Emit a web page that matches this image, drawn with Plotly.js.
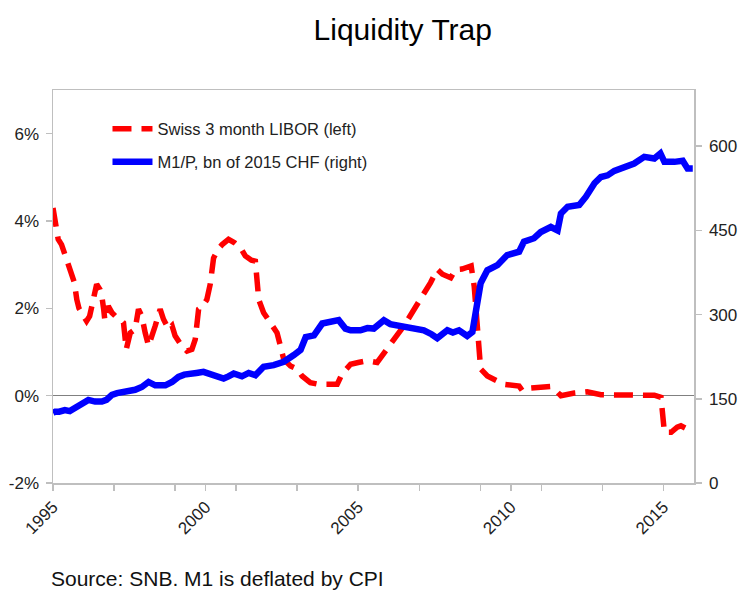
<!DOCTYPE html>
<html>
<head>
<meta charset="utf-8">
<script src="https://cdn.plot.ly/plotly-3.0.1.min.js"></script>
<style>html,body{margin:0;padding:0;background:#fff;}#chart{width:739px;height:590px;}</style>
</head>
<body>
<div id="chart"></div>
<script>
// Swiss 3 month LIBOR (%), left axis
const liborYears = [1995.0,1995.08,1995.17,1995.28,1995.45,1995.56,1995.7,1995.78,1995.85,1996.0,1996.1,1996.2,1996.32,1996.43,1996.54,1996.6,1996.66,1996.7,1996.81,1996.93,1997.09,1997.2,1997.31,1997.37,1997.4,1997.53,1997.69,1997.8,1997.91,1998.02,1998.13,1998.35,1998.51,1998.62,1998.79,1998.9,1999.0,1999.22,1999.39,1999.55,1999.66,1999.77,1999.9,2000.04,2000.15,2000.26,2000.4,2000.54,2000.75,2000.95,2001.14,2001.3,2001.5,2001.63,2001.68,2001.74,2001.9,2002.12,2002.34,2002.45,2002.56,2002.78,2003.0,2003.16,2003.43,2003.7,2003.93,2004.31,2004.47,2004.75,2005.0,2005.3,2005.62,2005.84,2006.17,2006.5,2006.77,2007.1,2007.37,2007.59,2007.76,2008.03,2008.19,2008.4,2008.57,2008.7,2008.8,2008.87,2008.92,2009.01,2009.23,2009.45,2009.78,2010.27,2010.38,2010.6,2010.98,2011.31,2011.5,2011.64,2012.08,2012.5,2012.95,2013.3,2013.6,2014.0,2014.26,2014.7,2014.92,2014.97,2015.03,2015.25,2015.45,2015.57,2015.79,2015.96];
const liborValues = [4.30,4.0,3.58,3.46,3.12,2.85,2.59,2.2,2.0,1.82,1.71,1.82,2.28,2.55,2.43,2.28,1.98,1.72,2.05,1.9,1.79,1.75,1.67,1.3,1.06,1.44,1.52,1.98,1.82,1.44,1.14,1.6,1.98,1.75,1.52,1.6,1.37,1.14,1.02,1.06,1.29,1.98,2.05,2.2,2.55,3.15,3.35,3.46,3.58,3.5,3.39,3.2,3.1,3.08,2.66,2.2,1.9,1.67,1.44,1.14,0.83,0.68,0.61,0.45,0.30,0.26,0.26,0.26,0.5,0.72,0.76,0.8,0.76,0.99,1.29,1.6,1.9,2.28,2.59,2.89,2.78,2.7,2.89,2.9,2.95,2.97,2.5,1.8,1.14,0.61,0.45,0.38,0.26,0.22,0.11,0.17,0.19,0.21,0.1,0.0,0.06,0.09,0.02,0.02,0.01,0.01,0.01,0.01,-0.04,-0.38,-0.84,-0.84,-0.72,-0.69,-0.77,-0.88];

// M1/P, bn of 2015 CHF, right axis
const m1Years = [1995.0,1995.07,1995.2,1995.39,1995.55,1995.72,1995.9,1996.0,1996.16,1996.38,1996.6,1996.75,1996.93,1997.1,1997.36,1997.5,1997.69,1997.91,1998.13,1998.35,1998.5,1998.68,1998.9,1999.11,1999.3,1999.44,1999.7,1999.93,2000.1,2000.26,2000.45,2000.59,2000.75,2000.92,2001.19,2001.41,2001.63,2001.9,2002.23,2002.56,2002.89,2003.11,2003.28,2003.55,2003.82,2004.09,2004.36,2004.58,2004.75,2005.07,2005.3,2005.51,2005.84,2006.05,2006.28,2006.72,2007.15,2007.4,2007.59,2007.92,2008.1,2008.3,2008.57,2008.74,2008.85,2009.01,2009.23,2009.56,2009.88,2010.27,2010.43,2010.76,2010.98,2011.31,2011.53,2011.64,2011.86,2012.24,2012.46,2012.74,2012.95,2013.17,2013.39,2013.72,2014.04,2014.37,2014.7,2014.9,2015.03,2015.36,2015.63,2015.79,2015.96];
const m1Values = [125,127,127,130,128,133,140,143,148,145,145,148,157,160,163,162,166,171,180,174,173,174,180,189,193,195,196,198,195,192,188,186,190,195,190,196,192,207,210,216,228,237,260,263,284,287,290,275,272,272,276,275,290,283,281,275,272,265,258,272,268,272,262,269,308,356,379,388,406,412,430,436,447,456,450,480,492,495,510,534,545,548,556,563,569,581,578,587,572,572,574,560,560];

const seriesNames = ['Swiss 3 month LIBOR (left)', 'M1/P, bn of 2015 CHF (right)'];
const xMajorTicks = [1995, 2000, 2005, 2010, 2015];
const xMinorTicks = [1997, 1999, 2001, 2003, 2007, 2009, 2011, 2013];
const leftTicks = [-2, 0, 2, 4, 6];
const rightTicks = [0, 150, 300, 450, 600];
const titleText = 'Liquidity Trap';
const sourceText = 'Source: SNB. M1 is deflated by CPI';

const FONT = 'Liberation Sans, Arial, sans-serif';
const axisGray = '#bfbfbf';
const TICKFONT = {family: FONT, size: 17, color: '#222222'};

const traces = [
  {
    x: liborYears, y: liborValues, name: seriesNames[0], type: 'scatter', mode: 'lines',
    line: {color: '#ff0000', width: 5.5, dash: '19px,10px'}, yaxis: 'y', legend: 'legend'
  },
  {
    x: m1Years, y: m1Values, name: seriesNames[1], type: 'scatter', mode: 'lines',
    line: {color: '#0000ff', width: 6.5}, yaxis: 'y2', legend: 'legend2'
  }
];

const layout = {
  width: 739, height: 590,
  margin: {l: 53, r: 45, t: 90, b: 107},
  paper_bgcolor: '#ffffff', plot_bgcolor: '#ffffff',
  font: {family: FONT, size: 16, color: '#222222'},
  title: {text: titleText, font: {family: FONT, size: 30, color: '#000000'},
          xref: 'container', x: 0.545, xanchor: 'center', yref: 'container', y: 1 - 29/590, yanchor: 'middle'},
  showlegend: true,
  legend: {x: 0.085, y: (483-129)/393, xanchor: 'left', yanchor: 'middle', bgcolor: 'rgba(0,0,0,0)', itemwidth: 40,
           font: {family: FONT, size: 16.5, color: '#222'}},
  legend2: {x: 0.085, y: (483-162)/393, xanchor: 'left', yanchor: 'middle', bgcolor: 'rgba(0,0,0,0)', itemwidth: 40,
            font: {family: FONT, size: 16.5, color: '#222'}},
  xaxis: {
    range: [1995, 2016], tickmode: 'array', tickvals: xMajorTicks, ticktext: xMajorTicks.map(String),
    tickangle: -45, ticks: 'outside', ticklen: 6, tickcolor: axisGray, tickwidth: 1.5,
    showline: true, linecolor: axisGray, linewidth: 1.5, mirror: true, showgrid: false, zeroline: false,
    minor: {tickmode: 'array', tickvals: xMinorTicks, ticks: 'outside', ticklen: 6, tickcolor: axisGray, tickwidth: 1.5},
    tickfont: TICKFONT
  },
  yaxis: {
    range: [-2, 7], tickmode: 'array', tickvals: leftTicks, ticktext: leftTicks.map(v => v + '%'),
    ticks: 'outside', ticklen: 6, tickcolor: axisGray, tickwidth: 1.5, ticklabelstandoff: 3,
    showline: true, linecolor: axisGray, linewidth: 1.5, showgrid: false,
    zeroline: true, zerolinecolor: '#808080', zerolinewidth: 1.5,
    tickfont: TICKFONT
  },
  yaxis2: {
    range: [0, 700], overlaying: 'y', side: 'right', tickmode: 'array', tickvals: rightTicks,
    ticks: 'outside', ticklen: 6, tickcolor: axisGray, tickwidth: 1.5, ticklabelstandoff: 4,
    showline: true, linecolor: axisGray, linewidth: 1.5, showgrid: false, zeroline: false,
    tickfont: TICKFONT
  },
  annotations: [{
    text: sourceText, xref: 'paper', yref: 'paper', x: -0.006, y: (483-578)/393,
    xanchor: 'left', yanchor: 'middle', showarrow: false,
    font: {family: FONT, size: 21, color: '#111'}
  }]
};

Plotly.newPlot('chart', traces, layout, {displayModeBar: false, staticPlot: true});
</script>
</body>
</html>
